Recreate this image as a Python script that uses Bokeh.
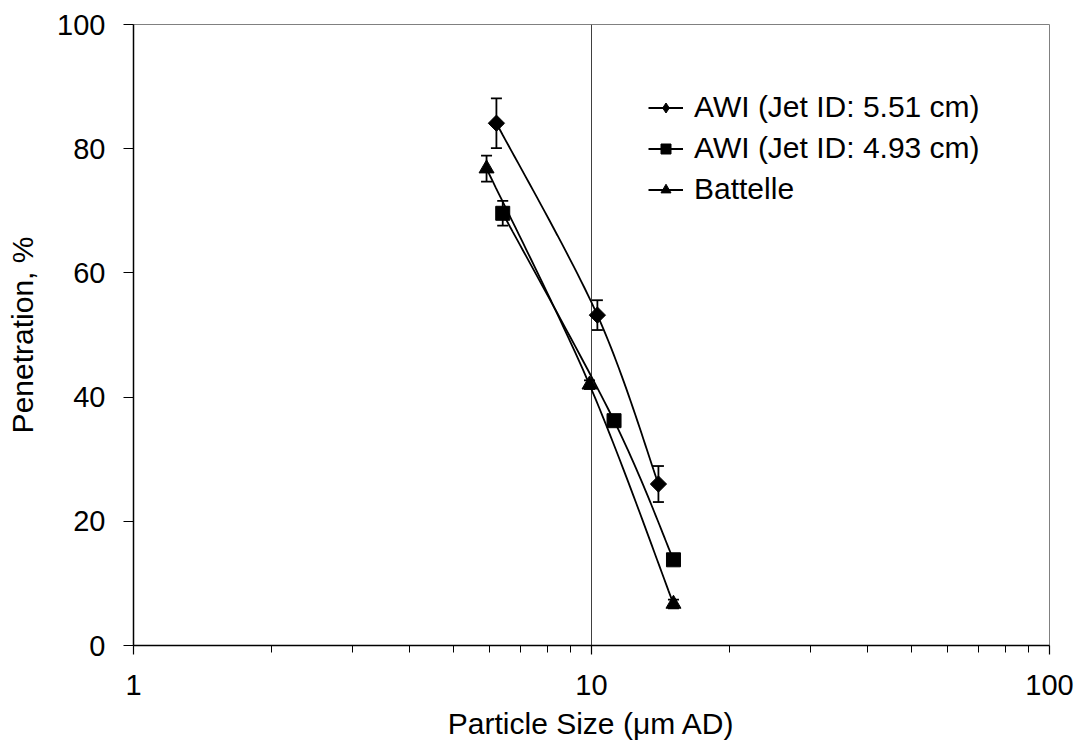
import numpy as np
from bokeh.plotting import figure
from bokeh.models import (ColumnDataSource, Whisker, TeeHead, FixedTicker,
                          PrintfTickFormatter, Legend, LegendItem, Range1d)
from bokeh.embed import file_html
from bokeh.resources import INLINE

# ---- data ----
awi551_x = [6.2, 10.3, 14.0]
awi551_y = [84.1, 53.2, 26.0]
awi551_err = [4.0, 2.4, 2.9]

awi493_x = [6.4, 11.2, 15.1]
awi493_y = [69.6, 36.2, 13.8]
awi493_err = [2.0, 0.0, 0.0]

batt_x = [5.9, 9.9, 15.1]
batt_y = [76.8, 42.0, 6.7]
batt_err = [2.1, 0.7, 0.7]

labels = ["AWI (Jet ID: 5.51 cm)", "AWI (Jet ID: 4.93 cm)", "Battelle"]

x_major = [1, 10, 100]
y_ticks = [0, 20, 40, 60, 80, 100]

FONT = "Liberation Sans"
FS_TICK = "29px"
FS = "30px"


def smooth(xs, ys, n=30):
    """Excel-style smoothed line (Catmull-Rom in screen space: log x, linear y)."""
    lx = np.log10(np.asarray(xs, float))
    yy = np.asarray(ys, float)
    P = np.column_stack([lx, yy])
    P = np.vstack([P[0], P, P[-1]])
    out = []
    for i in range(1, len(P) - 2):
        p0, p1, p2, p3 = P[i - 1], P[i], P[i + 1], P[i + 2]
        c1 = p1 + (p2 - p0) / 6.0
        c2 = p2 - (p3 - p1) / 6.0
        t = np.linspace(0, 1, n)[:, None]
        seg = ((1 - t) ** 3) * p1 + 3 * ((1 - t) ** 2) * t * c1 + 3 * (1 - t) * t ** 2 * c2 + t ** 3 * p2
        out.append(seg if i == 1 else seg[1:])
    pts = np.vstack(out)
    return 10 ** pts[:, 0], pts[:, 1]


p = figure(width=1080, height=750, x_axis_type="log",
           x_range=Range1d(1, 100), y_range=Range1d(0, 100),
           output_backend="svg", toolbar_location=None,
           min_border_left=133, min_border_right=31,
           min_border_top=24, min_border_bottom=105)

p.outline_line_color = "#808080"
p.outline_line_width = 1
p.background_fill_color = "white"
p.border_fill_color = "white"

p.ygrid.grid_line_color = None
p.xgrid.grid_line_color = "#404040"
p.xgrid.grid_line_width = 1
p.xgrid.ticker = FixedTicker(ticks=x_major)

# x axis
p.xaxis.ticker = FixedTicker(ticks=x_major,
                             minor_ticks=[m * d for d in (1, 10) for m in range(2, 10)])
p.xaxis.formatter = PrintfTickFormatter(format="%d")
p.xaxis.axis_label = "Particle Size (\u03bcm AD)"
p.xaxis.major_tick_out = 9
p.xaxis.major_tick_in = 0
p.xaxis.minor_tick_out = 7
p.xaxis.minor_tick_in = 0
p.xaxis.major_label_standoff = 20
p.xaxis.axis_label_standoff = 9

# y axis
p.yaxis.ticker = FixedTicker(ticks=y_ticks)
p.yaxis.axis_label = "Penetration, %"
p.yaxis.major_tick_out = 10
p.yaxis.major_tick_in = 0
p.yaxis.major_label_standoff = 18
p.yaxis.axis_label_standoff = 15

for ax in (p.xaxis[0], p.yaxis[0]):
    ax.axis_line_color = "black"
    ax.axis_line_width = 1.5
    ax.major_tick_line_color = "black"
    ax.major_tick_line_width = 1.2
    ax.minor_tick_line_width = 1
    ax.major_label_text_font = FONT
    ax.major_label_text_font_size = FS_TICK
    ax.major_label_text_color = "black"
    ax.axis_label_text_font = FONT
    ax.axis_label_text_font_size = FS
    ax.axis_label_text_font_style = "normal"
    ax.axis_label_text_color = "black"
p.xaxis.minor_tick_line_color = "black"
p.yaxis.minor_tick_line_color = None

series = [(awi551_x, awi551_y, awi551_err),
          (awi493_x, awi493_y, awi493_err),
          (batt_x, batt_y, batt_err)]
# plot markers (diamond drawn as a 45-degree square so that it is symmetric)
marker_style = [dict(marker="square", angle=np.pi / 4, size=11.5),
                dict(marker="square", angle=0.0, size=14),
                dict(marker="triangle", angle=0.0, size=15)]
legend_marker = ["diamond", "square", "triangle"]

items = []
for (xs, ys, es), lab, ms, lm in zip(series, labels, marker_style, legend_marker):
    sx, sy = smooth(xs, ys)
    lr = p.line(sx, sy, line_color="black", line_width=1.8)
    src = ColumnDataSource(dict(x=xs, y=ys))
    p.scatter("x", "y", source=src, fill_color="black", line_color="black", **ms)
    # legend-only marker (zero size in the plot; legend draws its own size)
    leg_r = p.scatter("x", "y", source=src, marker=lm, size=0,
                      fill_color="black", line_color="black")
    ex = [x for x, e in zip(xs, es) if e > 0]
    ey = [y for y, e in zip(ys, es) if e > 0]
    ee = [e for e in es if e > 0]
    if ex:
        esrc = ColumnDataSource(dict(x=ex,
                                     upper=[y + e for y, e in zip(ey, ee)],
                                     lower=[y - e for y, e in zip(ey, ee)]))
        w = Whisker(source=esrc, base="x", upper="upper", lower="lower",
                    dimension="height", line_color="black", line_width=1.8,
                    upper_head=TeeHead(size=11, line_color="black", line_width=1.8),
                    lower_head=TeeHead(size=11, line_color="black", line_width=1.8))
        p.add_layout(w)
    items.append(LegendItem(label=lab, renderers=[lr, leg_r]))

legend = Legend(items=items, location=(515, 439),
                glyph_width=35, glyph_height=25, label_height=34,
                label_standoff=11, spacing=7, padding=0, margin=0,
                border_line_color=None, background_fill_alpha=0,
                label_text_font=FONT, label_text_font_size=FS,
                label_text_color="black")
p.add_layout(legend)

open("out.html", "w").write(file_html(p, INLINE))
